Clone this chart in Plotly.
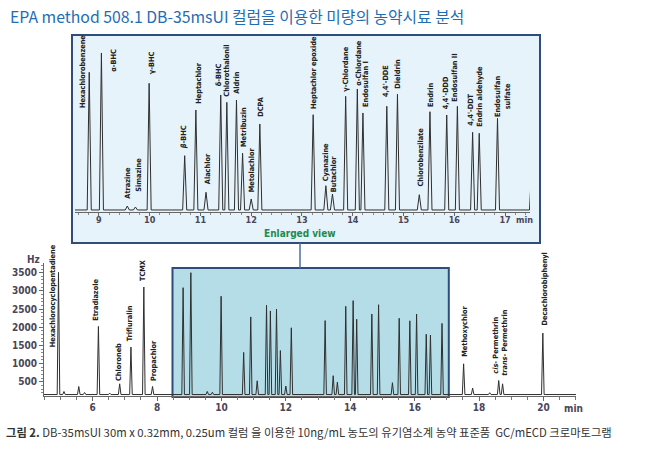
import plotly.graph_objects as go

# ---------------- data ----------------
title_text = "EPA method 508.1 DB-35msUI 컬럼을 이용한 미량의 농약시료 분석"
caption_bold = "그림 2."
caption_rest = " DB-35msUI 30m x 0.32mm, 0.25um 컬럼 을 이용한 10ng/mL 농도의 유기염소계 농약 표준품  GC/mECD 크로마토그램"

# peak retention times (min) and apex signal (Hz)
peak_t = [4.94, 5.11, 5.57, 5.75, 6.18, 6.53, 6.84, 7.19, 7.59, 7.86,
          8.81, 9.05, 9.56, 9.72, 9.99, 10.69, 10.91, 11.11, 11.40, 11.52,
          11.71, 11.83, 12.00, 12.17, 13.22, 13.47, 13.60, 13.86, 14.09, 14.20,
          14.67, 14.88, 15.31, 15.52, 15.85, 16.06, 16.36, 16.49, 16.85,
          17.52, 17.80, 18.33, 18.61, 18.73, 19.98]
peak_h = [3507, 234, 371, 206, 2022, 190, 445, 1455, 3106, 371,
          3088, 3500, 235, 214, 2853, 1309, 2284, 528, 2604, 2448,
          2497, 1360, 385, 1985, 2183, 668, 491, 2576, 2732, 2220,
          2363, 2619, 476, 2247, 2177, 2363, 1808, 1786, 2106,
          995, 327, 200, 536, 445, 1840]
baseline_hz = 150

# labels in the enlarged view: (text, time, Hz at text bottom)
top_names = ["Hexachlorobenzene", "α-BHC", "Atrazine", "Simazine", "γ-BHC",
             "<i>β</i>-BHC", "Heptachlor", "Alachlor", "δ-BHC", "Chlorothalonil",
             "Aldrin", "Metribuzin", "Metolachlor", "DCPA", "Heptachlor epoxide",
             "Cyanazine", "Butachlor", "γ-Chlordane", "α-Chlordane", "Endosulfan I",
             "4,4'-DDE", "Dieldrin", "Chlorobenzilate", "Endrin", "4,4'-DDD",
             "Endosulfan II", "4,4'-DDT", "Endrin aldehyde", "Endosulfan<br>sulfate"]
top_lab_t = [8.68, 9.284, 9.548, 9.765, 10.04, 10.66, 10.946, 11.143, 11.36, 11.517,
             11.706, 11.858, 12.01, 12.187, 13.226, 13.459, 13.624, 13.853, 14.097, 14.24,
             14.654, 14.865, 15.324, 15.52, 15.83, 16.007, 16.322, 16.49, 16.95]
top_lab_v = [2305, 3073, 363, 512, 3030, 1430, 2390, 683, 2774, 2540,
             2604, 1473, 512, 2113, 2283, 747, 512, 2646, 2774, 2326,
             2540, 2710, 619, 2326, 2283, 2433, 1921, 1899, 2113]

# labels in the full chromatogram
main_names = ["Hexachlorocyclopentadiene", "Etradiazole", "Chloroneb", "Trifluralin",
              "TCMX", "Propachlor", "Methoxychlor", "<i>cis</i>- Permethrin",
              "<i>trans</i>- Permethrin", "Decachlorobiphenyl"]
main_lab_t = [4.76, 6.105, 6.798, 7.14, 7.556, 7.867, 17.537, 18.50, 18.81, 20.02]
main_lab_v = [1428, 2150, 503, 1600, 3248, 503, 1153, 686, 640, 2012]

main_xticks = [6, 8, 10, 12, 14, 16, 18, 20]
main_yticks = [500, 1000, 1500, 2000, 2500, 3000, 3500]
top_xticks = [9, 10, 11, 12, 13, 14, 15, 16, 17]

# ---------------- build trace ----------------
W, H = 650, 454
hw = 0.04
xs = [4.49]
ys = [baseline_hz]
for t, h in sorted(zip(peak_t, peak_h)):
    xs += [t - hw, t, t + hw]
    ys += [baseline_hz, h, baseline_hz]
xs.append(21.01)
ys.append(baseline_hz)

def px(x):
    return x / W

def py(y):
    return (H - y) / H

fig = go.Figure()
line_style = dict(color="#2f2f2f", width=1)
fig.add_trace(go.Scatter(x=xs, y=ys, mode="lines", line=line_style,
                         xaxis="x", yaxis="y", hoverinfo="skip", showlegend=False))
fig.add_trace(go.Scatter(x=xs, y=ys, mode="lines", line=line_style,
                         xaxis="x2", yaxis="y2", hoverinfo="skip", showlegend=False))

narrow = "Liberation Sans Narrow, DejaVu Sans Condensed, Arial Narrow, sans-serif"
lab_font = dict(family=narrow, size=7.3, color="#222222")
tick_font = dict(family=narrow, size=10, color="#4a4658")

ann = []
for n, t, v in zip(top_names, top_lab_t, top_lab_v):
    ann.append(dict(x=t, y=v, xref="x2", yref="y2", text="<b>%s</b>" % n, showarrow=False,
                    textangle=-90, xanchor="center", yanchor="bottom", font=lab_font,
                    borderpad=0))
for n, t, v in zip(main_names, main_lab_t, main_lab_v):
    ann.append(dict(x=t, y=v, xref="x", yref="y", text="<b>%s</b>" % n, showarrow=False,
                    textangle=-90, xanchor="center", yanchor="bottom", font=lab_font,
                    borderpad=0))

ann += [
    dict(x=px(8), y=py(16), xref="paper", yref="paper", text=title_text, showarrow=False,
         xanchor="left", yanchor="middle",
         font=dict(family="Noto Sans CJK KR", size=15.8, color="#1f6db5")),
    dict(x=px(4), y=py(432), xref="paper", yref="paper",
         text="<b>%s</b>%s" % (caption_bold, caption_rest), showarrow=False,
         xanchor="left", yanchor="middle",
         font=dict(family="Noto Sans CJK KR", size=11.3, color="#333333")),
    dict(x=px(300), y=py(233), xref="paper", yref="paper", text="<b>Enlarged view</b>",
         showarrow=False, xanchor="center", yanchor="middle",
         font=dict(family=narrow, size=10, color="#1f8a50")),
    dict(x=px(524), y=py(220), xref="paper", yref="paper", text="<b>min</b>",
         showarrow=False, xanchor="center", yanchor="middle", font=dict(tick_font, size=9)),
    dict(x=px(573), y=py(408), xref="paper", yref="paper", text="<b>min</b>",
         showarrow=False, xanchor="center", yanchor="middle", font=tick_font),
    dict(x=px(33), y=py(259), xref="paper", yref="paper", text="<b>Hz</b>",
         showarrow=False, xanchor="center", yanchor="middle", font=tick_font),
]

shapes = [
    dict(type="rect", xref="paper", yref="paper", x0=px(72), x1=px(540), y0=py(243), y1=py(35),
         fillcolor="#e6f3fa", line=dict(color="#2e4d7b", width=2), layer="below"),
    dict(type="line", xref="paper", yref="paper", x0=px(300), x1=px(300), y0=py(243), y1=py(268),
         line=dict(color="#4a6fa0", width=1.5)),
    dict(type="rect", xref="x", yref="paper", x0=8.48, x1=17.06, y0=py(397), y1=py(268),
         fillcolor="#b5dde8", line=dict(color="#2e4d7b", width=2), layer="below"),
]

fig.update_layout(
    width=W, height=H,
    margin=dict(l=0, r=0, t=0, b=0, pad=0),
    paper_bgcolor="white", plot_bgcolor="rgba(0,0,0,0)",
    showlegend=False,
    annotations=ann, shapes=shapes,
    xaxis=dict(domain=[px(44), px(576)], range=[4.49, 21.01], anchor="y", automargin=False,
               showgrid=False, zeroline=False, showline=True, linecolor="#666666", linewidth=1,
               tickvals=main_xticks, ticktext=["<b>%d</b>" % v for v in main_xticks],
               ticks="outside", ticklen=4, tickcolor="#666666", tickfont=tick_font,
               ticklabelstandoff=-2,
               minor=dict(dtick=0.5, tick0=0, ticks="outside", ticklen=3, tickcolor="#777777")),
    yaxis=dict(domain=[py(396), py(263)], range=[110, 3766], anchor="x", automargin=False,
               showgrid=False, zeroline=False, showline=True, linecolor="#666666", linewidth=1,
               tickvals=main_yticks, ticktext=["<b>%d</b>" % v for v in main_yticks],
               ticks="outside", ticklen=4, tickcolor="#666666", tickfont=tick_font,
               minor=dict(dtick=100, tick0=0, ticks="outside", ticklen=2, tickcolor="#888888")),
    xaxis2=dict(domain=[px(75), px(530)], range=[8.53, 17.49], anchor="y2", automargin=False,
                showgrid=False, zeroline=False, showline=True, linecolor="#666666", linewidth=1,
                tickvals=top_xticks, ticktext=["<b>%d</b>" % v for v in top_xticks],
                ticks="outside", ticklen=3, tickcolor="#666666", tickfont=dict(tick_font, size=9),
                ticklabelstandoff=-4,
                minor=dict(dtick=0.2, tick0=0, ticks="outside", ticklen=2, tickcolor="#888888")),
    yaxis2=dict(domain=[py(212), py(40)], range=[107, 3777], anchor="x2", automargin=False,
                visible=False, showgrid=False, zeroline=False),
)

fig.write_html("out.html", config={"displayModeBar": False},
               post_script="document.body.style.margin='0px';")
